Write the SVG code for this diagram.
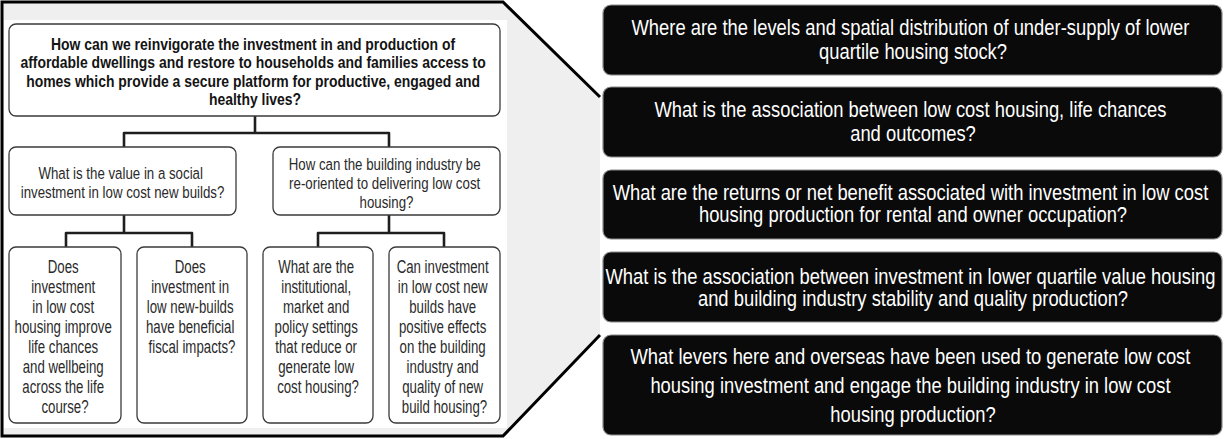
<svg xmlns="http://www.w3.org/2000/svg" width="1224" height="439" viewBox="0 0 1224 439">
  <style>
    .frame-fill { fill: #efefef; stroke: none; }
    .frame-line { fill: none; stroke: #000; stroke-width: 3; stroke-linejoin: miter; }
    .panel { fill: #ffffff; }
    .box { fill: #ffffff; stroke: #3a3a3a; stroke-width: 1.3; }
    .dark { fill: #0a0a0a; stroke: #8c8c8c; stroke-width: 1.2; }
    .link { fill: none; stroke: #1e1e1e; stroke-width: 2.6; stroke-linejoin: round; }
    text { font-family: "Liberation Sans", Arial, sans-serif; text-anchor: middle; }
    .q-main { font-size: 16.5px; font-weight: bold; fill: #141414; }
    .q-mid { font-size: 16.5px; fill: #2a2a2a; }
    .q-leaf { font-size: 17.5px; fill: #2a2a2a; }
    .q-dark { font-size: 21.5px; fill: #ffffff; }
  </style>

  <!-- zoom callout frame around the question tree -->
  <g id="callout">
    <polygon class="frame-fill" points="2,2 503,2 600,97 600,335 503,436 2,436"/>
    <rect class="panel" x="4" y="20" width="503" height="408"/>
    <polyline class="frame-line" points="600,97 503,2 2,2 2,436 503,436 600,335"/>
  </g>

  <!-- tree connectors -->
  <g id="connectors">
    <path class="link" d="M255,116 V133 M124,147 V133 H389 V147"/>
    <path class="link" d="M124,215 V233 M66,247 V233 H192 V247"/>
    <path class="link" d="M389,215 V233 M318,247 V233 H444 V247"/>
  </g>

  <g id="q-root">
    <rect class="box" x="9" y="24" width="491" height="92" rx="7"/>
    <text class="q-main" transform="translate(255 50) scale(0.845 1)">
      <tspan x="0" dy="0">How can we reinvigorate the investment in and production of</tspan>
      <tspan x="0" dy="18.5">affordable dwellings and restore to households and families access to</tspan>
      <tspan x="0" dy="18.5">homes which provide a secure platform for productive, engaged and</tspan>
      <tspan x="0" dy="18.5">healthy lives?</tspan>
    </text>
  </g>

  <g id="q-social-value">
    <rect class="box" x="9" y="147" width="227" height="68" rx="7"/>
    <text class="q-mid" transform="translate(122.5 179) scale(0.805 1)">
      <tspan x="0" dy="0">What is the value in a social</tspan>
      <tspan x="0" dy="19.5">investment in low cost new builds?</tspan>
    </text>
  </g>

  <g id="q-industry">
    <rect class="box" x="273" y="147" width="227" height="68" rx="7"/>
    <text class="q-mid" transform="translate(386.5 170) scale(0.805 1)">
      <tspan x="0" dy="0">How can the building industry be</tspan>
      <tspan x="0" dy="19">re-oriented to delivering low cost</tspan>
      <tspan x="0" dy="19">housing?</tspan>
    </text>
  </g>

  <g id="q-life-chances">
    <rect class="box" x="9" y="247" width="112" height="176" rx="7"/>
    <text class="q-leaf" transform="translate(65 273) scale(0.757 1)">
      <tspan x="0" dy="0">Does</tspan>
      <tspan x="0" dy="20">investment</tspan>
      <tspan x="0" dy="20">in low cost</tspan>
      <tspan x="0" dy="20">housing improve</tspan>
      <tspan x="0" dy="20">life chances</tspan>
      <tspan x="0" dy="20">and wellbeing</tspan>
      <tspan x="0" dy="20">across the life</tspan>
      <tspan x="0" dy="20">course?</tspan>
    </text>
  </g>

  <g id="q-fiscal">
    <rect class="box" x="137" y="247" width="110" height="176" rx="7"/>
    <text class="q-leaf" transform="translate(192 273) scale(0.757 1)">
      <tspan x="0" dy="0">Does</tspan>
      <tspan x="0" dy="20">investment in</tspan>
      <tspan x="0" dy="20">low new-builds</tspan>
      <tspan x="0" dy="20">have beneficial</tspan>
      <tspan x="0" dy="20">fiscal impacts?</tspan>
    </text>
  </g>

  <g id="q-settings">
    <rect class="box" x="263" y="247" width="110" height="176" rx="7"/>
    <text class="q-leaf" transform="translate(318 273) scale(0.757 1)">
      <tspan x="0" dy="0">What are the</tspan>
      <tspan x="0" dy="20">institutional,</tspan>
      <tspan x="0" dy="20">market and</tspan>
      <tspan x="0" dy="20">policy settings</tspan>
      <tspan x="0" dy="20">that reduce or</tspan>
      <tspan x="0" dy="20">generate low</tspan>
      <tspan x="0" dy="20">cost housing?</tspan>
    </text>
  </g>

  <g id="q-industry-effects">
    <rect class="box" x="389" y="247" width="111" height="176" rx="7"/>
    <text class="q-leaf" transform="translate(444.5 273) scale(0.757 1)">
      <tspan x="0" dy="0">Can investment</tspan>
      <tspan x="0" dy="20">in low cost new</tspan>
      <tspan x="0" dy="20">builds have</tspan>
      <tspan x="0" dy="20">positive effects</tspan>
      <tspan x="0" dy="20">on the building</tspan>
      <tspan x="0" dy="20">industry and</tspan>
      <tspan x="0" dy="20">quality of new</tspan>
      <tspan x="0" dy="20">build housing?</tspan>
    </text>
  </g>

  <!-- research questions -->
  <g id="r-undersupply">
    <rect class="dark" x="603" y="5" width="619" height="70" rx="8"/>
    <text class="q-dark" transform="translate(913 35) scale(0.855 1)">
      <tspan x="0" dy="0">Where are the levels and spatial distribution of under-supply of lower</tspan>
      <tspan x="0" dy="24">quartile housing stock?</tspan>
    </text>
  </g>

  <g id="r-life-chances">
    <rect class="dark" x="603" y="87" width="619" height="70" rx="8"/>
    <text class="q-dark" transform="translate(913 117) scale(0.855 1)">
      <tspan x="0" dy="0">What is the association between low cost housing, life chances</tspan>
      <tspan x="0" dy="24">and outcomes?</tspan>
    </text>
  </g>

  <g id="r-returns">
    <rect class="dark" x="603" y="170" width="619" height="69" rx="8"/>
    <text class="q-dark" transform="translate(913 200) scale(0.855 1)">
      <tspan x="0" dy="0">What are the returns or net benefit associated with investment in low cost</tspan>
      <tspan x="0" dy="22.5">housing production for rental and owner occupation?</tspan>
    </text>
  </g>

  <g id="r-industry-stability">
    <rect class="dark" x="603" y="252" width="619" height="70" rx="8"/>
    <text class="q-dark" transform="translate(913 283.5) scale(0.855 1)">
      <tspan x="0" dy="0">What is the association between investment in lower quartile value housing</tspan>
      <tspan x="0" dy="22.5">and building industry stability and quality production?</tspan>
    </text>
  </g>

  <g id="r-levers">
    <rect class="dark" x="603" y="335" width="619" height="100" rx="8"/>
    <text class="q-dark" transform="translate(913 364) scale(0.855 1)">
      <tspan x="0" dy="0">What levers here and overseas have been used to generate low cost</tspan>
      <tspan x="0" dy="29">housing investment and engage the building industry in low cost</tspan>
      <tspan x="0" dy="29">housing production?</tspan>
    </text>
  </g>
</svg>
